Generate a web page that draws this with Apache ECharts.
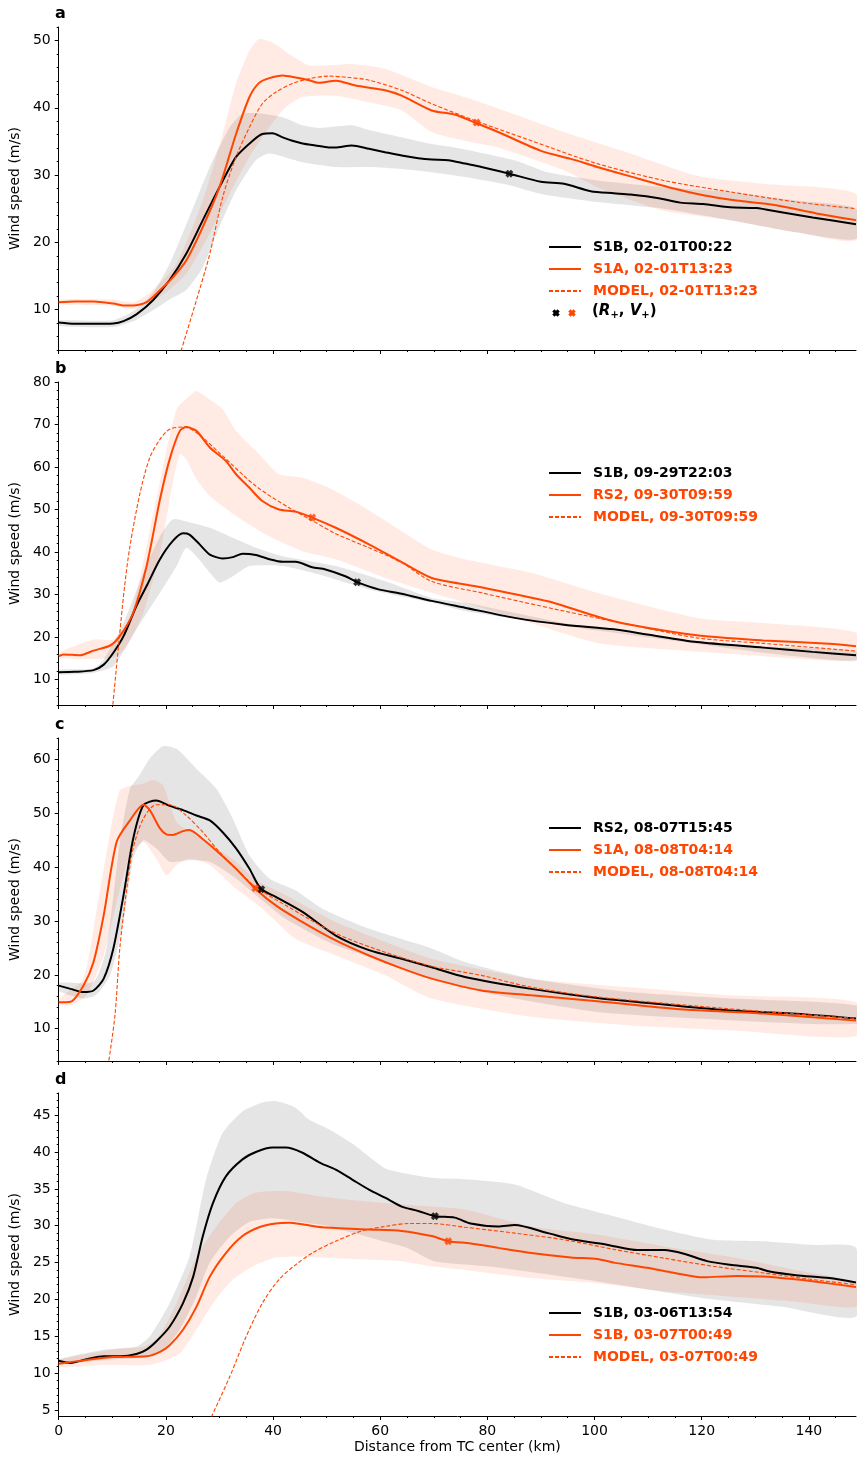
<!DOCTYPE html>
<html>
<head>
<meta charset="utf-8">
<title>Wind speed profiles</title>
<script src="https://cdn.jsdelivr.net/npm/echarts@6/dist/echarts.min.js"></script>
<style>
  html, body { margin: 0; padding: 0; background: #fff; }
  #chart { width: 857px; height: 1458px; }
</style>
</head>
<body>
<div id="chart"></div>
<script>
const ORANGE = '#ff4500'
const FONT = 'DejaVu Sans'
const X_MAX = 148.8

// panel a  [distance km, wind m/s]
const aBlack = [[0,8.1],[3,7.9],[6,7.9],[10.2,7.95],[12.1,8.3],[14.5,9.3],[17.6,11.4],[20.7,14.4],[23.8,18.3],[26.9,23.3],[30,28.2],[33.1,32.7],[36.2,35.1],[38,36.1],[39.9,36.2],[41.8,35.6],[43.6,35.1],[45.5,34.7],[47.9,34.4],[50.4,34.1],[51.6,34.1],[54.7,34.4],[57.9,33.9],[60.9,33.4],[64,32.9],[67.1,32.5],[69.6,32.3],[72.7,32.2],[75.8,31.7],[78.9,31.2],[84.1,30.2],[90,29.0],[94.3,28.7],[99.3,27.6],[103.6,27.3],[106.7,27.1],[111.7,26.6],[116,25.9],[120.3,25.7],[125.3,25.2],[130.2,25.1],[134.6,24.5],[140.7,23.7],[148.8,22.7]]
const aOrange = [[0,11.1],[3,11.2],[6.5,11.2],[10.2,10.9],[12.5,10.6],[13.9,10.6],[16.4,11.1],[18.9,12.9],[21.3,14.8],[23.8,17.3],[26.9,22.3],[30,28.2],[33.1,36.1],[35.6,41.6],[37.4,43.7],[39.3,44.4],[41.8,44.8],[44.2,44.5],[46.7,44.1],[48.6,43.7],[51.7,44.0],[52.7,43.9],[55.4,43.3],[60.9,42.6],[64,41.8],[69.6,39.6],[73.9,39.0],[78,37.7],[82,36.4],[90,33.6],[95.6,32.4],[100.5,31.2],[106.7,29.8],[114.8,28.0],[120.3,27.0],[126.5,26.2],[133.9,25.5],[141.4,24.3],[148.8,23.3]]
const aModel = [[22.5,3.0],[25.7,11.4],[28.2,18.3],[30.6,26.7],[33.1,32.7],[35.6,37.1],[38,40.6],[40.5,42.3],[43.6,43.6],[46.7,44.3],[50.4,44.7],[54.1,44.5],[57.9,44.1],[64,42.6],[69.6,40.6],[78,38.0],[88.2,35.1],[100.5,31.7],[112.9,29.2],[125.3,27.5],[137.6,26.0],[148.8,25.0]]
const aGrayHi = [[0,8.4],[10,8.4],[14,9.8],[17.6,12.5],[20.7,16.8],[24.4,23.8],[28.2,31.2],[31.9,37.1],[34.3,39.1],[38,39.1],[41.8,38.6],[45.5,37.4],[48.6,37.0],[54.7,37.4],[57.9,36.7],[64,35.6],[69.6,34.6],[73.9,34.1],[85.1,32.2],[91.3,30.4],[100.5,29.2],[112.9,28.2],[125.3,27.5],[137.6,26.2],[148.8,25.0]]
const aGrayLo = [[0,7.6],[10.2,7.4],[14,8.3],[17.6,9.9],[20.7,11.5],[23.8,12.9],[26.9,16.3],[30,22.3],[33.1,27.7],[36.8,32.2],[39.3,33.2],[45.5,31.9],[51.7,31.2],[57.9,31.2],[64,30.9],[69.6,30.4],[75.8,29.7],[84.1,28.5],[90,27.2],[100.5,26.0],[112.9,25.0],[125.3,23.3],[137.6,21.5],[148.8,20.5]]
const aOrangeHi = [[0,11.5],[10,11.5],[14,11.1],[17.6,12.9],[22,16.8],[26.9,26.2],[30.6,36.1],[33.1,43.6],[35.6,48.5],[37.4,50.2],[39.9,49.7],[43,48.0],[46.7,46.3],[50.4,46.3],[54.7,46.5],[60.9,45.8],[69.6,43.1],[75.8,41.6],[82,39.9],[94.3,36.4],[106.7,33.2],[119.1,29.9],[131.5,28.7],[148.8,27.2]]
const aOrangeLo = [[0,10.8],[10,10.6],[13.9,10.1],[18.9,11.9],[23.8,15.3],[28.2,21.3],[31.9,27.2],[35.6,32.7],[39.3,37.1],[42.4,40.1],[45.5,41.6],[51.7,41.8],[57.9,40.8],[64,39.6],[69.6,36.4],[75.8,35.1],[82,34.1],[94.3,30.7],[100.5,28.2],[112.9,24.7],[125.3,23.3],[137.6,21.5],[148.8,20.3]]
const aMarks = [[84.1,30.2],[78.0,37.8]]
const aNames = ['S1B, 02-01T00:22','S1A, 02-01T13:23','MODEL, 02-01T13:23']

// panel b
const bBlack = [[0,11.7],[3,11.8],[6.5,12.2],[8.4,13.5],[10.2,16.3],[12.1,20.2],[14.5,27.3],[16.4,32.0],[18.9,38.3],[21.3,42.6],[23.2,44.4],[24.4,44.1],[26.3,41.8],[28.2,39.4],[30.6,38.5],[32.5,38.8],[34.3,39.6],[36.8,39.3],[39.3,38.3],[41.8,37.7],[44.2,37.7],[47.3,36.4],[49.8,35.9],[53.5,34.3],[55.7,32.9],[59.7,31.2],[64,30.2],[69.6,28.5],[75.8,26.9],[85.1,24.5],[94.3,22.9],[103.6,21.8],[109.8,20.6],[119.1,18.8],[131.5,17.5],[140.7,16.5],[148.8,15.7]]
const bOrange = [[0,15.5],[0.9,15.9],[4,15.7],[6.5,16.8],[9.6,18.0],[11.4,20.2],[13.9,25.7],[16.4,36.7],[18.9,52.4],[20.7,61.8],[22.6,68.5],[23.8,69.4],[25.7,68.5],[28.2,64.6],[31.2,61.4],[33.1,58.3],[35.6,55.1],[38,52.0],[41.1,50.0],[44.2,49.5],[47.3,48.1],[51.7,45.7],[57.9,41.8],[64,37.6],[69.6,33.9],[77.6,32.0],[91.3,28.4],[103.6,23.7],[119.1,20.4],[131.5,19.2],[143.8,18.4],[148.8,17.8]]
const bModel = [[10.0,2.7],[11.4,21.0],[12.3,32.0],[13.3,41.4],[15.2,54.0],[17,62.2],[18.9,66.5],[20.7,68.9],[23.2,69.4],[25.7,68.1],[30.6,62.6],[36.8,55.5],[43,50.4],[47.3,47.4],[51.7,44.3],[57.9,41.0],[64,37.5],[69.6,33.1],[78.9,30.4],[94.3,26.1],[106.7,22.9],[119.1,19.8],[131.5,18.5],[148.8,16.7]]
const bGrayHi = [[0,12.3],[6.5,12.6],[8.4,14.7],[12.1,23.3],[15.8,35.1],[18.9,43.7],[21.3,47.7],[24.4,47.0],[28.2,45.7],[33.1,43.0],[36.8,41.0],[41.8,39.0],[51.7,36.7],[61,33.1],[69.6,29.2],[75.8,28.1],[94.3,23.3],[113,19.8],[131.5,17.8],[148.8,16.7]]
const bGrayLo = [[0,11.2],[6.5,11.6],[10.2,13.1],[14.5,21.8],[18.9,30.4],[22,36.7],[23.8,41.0],[25.7,39.0],[28.2,35.1],[30,32.8],[32.5,34.3],[35.6,36.7],[41.8,36.7],[48.6,34.7],[57.9,31.2],[69.6,28.1],[75.8,26.1],[94.3,22.6],[113,19.4],[131.5,16.3],[148.8,14.3]]
const bOrangeHi = [[0,16.3],[6.5,19.4],[10.2,19.4],[13.3,24.1],[16.4,41.4],[19.5,60.2],[22,73.6],[24.4,76.7],[25.7,77.9],[28.2,75.9],[30.6,73.6],[33.1,68.5],[36.8,63.8],[41.1,58.3],[45.5,57.5],[50.4,55.1],[56.6,50.8],[64,44.9],[69.6,40.6],[75.8,38.3],[88.2,35.1],[100.5,30.4],[119.1,24.5],[131.5,23.3],[148.8,21.0]]
const bOrangeLo = [[0,15.0],[10.2,15.1],[12.7,17.8],[15.8,25.7],[18.9,39.8],[21.3,56.3],[22.6,63.0],[23.8,61.8],[25.7,57.1],[28.2,53.2],[33.1,48.5],[39.3,43.7],[45.5,40.2],[51.7,38.3],[61,33.9],[69.6,30.4],[75.8,28.1],[88.2,23.3],[100.5,18.6],[113,17.1],[131.5,15.5],[148.8,14.7]]
const bMarks = [[55.7,32.9],[47.3,48.1]]
const bNames = ['S1B, 09-29T22:03','RS2, 09-30T09:59','MODEL, 09-30T09:59']

// panel c
const cBlack = [[0,18.0],[2.2,17.4],[4.6,16.8],[6.5,17.1],[8.4,19.3],[10.2,24.9],[12.1,34.8],[13.9,45.3],[15.8,51.5],[18.2,52.4],[20.7,51.4],[23.2,50.6],[25.7,49.6],[28.2,48.7],[30.6,46.5],[33.1,43.5],[35.6,39.7],[37.7,36.0],[40.5,34.5],[45.5,31.7],[51.7,27.3],[57.9,24.6],[64,23.0],[69.6,21.4],[75.8,19.6],[88.2,17.4],[100.5,15.7],[113,14.5],[125.3,13.4],[137.6,12.8],[148.8,11.9]]
const cOrange = [[0,14.9],[2.2,15.0],[4.6,18.0],[6.5,22.4],[8.4,31.1],[10.8,44.7],[13.3,48.7],[15.8,51.6],[17,50.6],[18.9,47.2],[20.1,46.1],[21.3,46.0],[23.2,46.7],[24.4,46.9],[26.9,45.2],[29.4,43.1],[33.1,39.7],[36.7,36.0],[40.5,32.9],[45.5,29.8],[51.7,26.4],[57.9,23.6],[64,21.2],[69.6,19.3],[78.9,17.1],[88.2,16.2],[100.5,15.1],[116,13.6],[131.5,12.8],[148.8,11.5]]
const cModel = [[9.2,3.0],[10.5,12.5],[11.4,24.9],[12.7,36.0],[13.9,43.5],[15.8,49.0],[18.2,51.6],[20.7,51.6],[23.8,49.6],[26.9,46.5],[30,42.8],[33.1,39.7],[36.8,36.3],[42.4,32.9],[51.7,27.7],[60.9,24.2],[69.6,21.6],[78.9,19.9],[88.2,17.7],[100.5,15.9],[119.1,14.2],[131.5,13.2],[148.8,11.9]]
const cGrayHi = [[0,18.5],[6.5,18.7],[8.9,24.9],[11.4,44.7],[13.3,54.6],[14.9,56.8],[17,60.2],[19.5,62.5],[22,62.0],[25.7,58.3],[29.4,54.6],[32.5,49.0],[35.6,42.2],[39.3,37.9],[44.2,35.7],[49.2,32.3],[57.9,28.6],[69.6,24.9],[75.8,22.4],[88.2,19.3],[106.7,16.8],[125.3,15.6],[148.8,14.3]]
const cGrayLo = [[0,17.0],[4.6,15.6],[6.9,16.2],[9.6,19.9],[12.1,29.8],[13.9,41.6],[15.8,45.0],[18.2,43.5],[20.7,41.0],[24.4,41.3],[28.2,41.0],[33.1,37.9],[36.8,34.8],[42.4,30.4],[51.7,25.5],[61,22.4],[69.6,19.3],[82,16.2],[100.5,13.1],[119.1,11.9],[148.8,10.9]]
const cOrangeHi = [[0,15.5],[4.6,19.3],[6.9,31.1],[9.6,46.5],[11.4,54.3],[13.3,55.1],[15.8,55.5],[17.6,56.2],[19.5,55.2],[22,48.4],[25.7,45.9],[29.4,43.5],[33.1,41.0],[36.8,37.6],[42.4,34.8],[51.7,29.8],[61,26.1],[69.6,23.0],[88.2,19.3],[106.7,17.7],[125.3,16.2],[148.8,14.9]]
const cOrangeLo = [[0,14.4],[2.2,14.3],[5.2,16.2],[8.4,23.6],[10.8,33.5],[13.3,42.2],[15.8,44.7],[18.2,41.6],[20.1,38.5],[22,40.4],[24.4,41.6],[28.2,40.4],[33.1,36.0],[38,32.3],[44.2,26.7],[51.7,23.6],[61,19.9],[69.6,15.6],[88.2,12.2],[106.7,10.6],[125.3,9.7],[148.8,8.6]]
const cMarks = [[37.8,35.9],[36.7,36.1]]
const cNames = ['RS2, 08-07T15:45','S1A, 08-08T04:14','MODEL, 08-08T04:14']

// panel d
const dBlack = [[0,11.7],[2.2,11.4],[5.2,11.9],[8.4,12.3],[11.5,12.3],[14.5,12.6],[16.4,13.2],[18.2,14.3],[20.7,16.3],[23.2,19.5],[25.1,23.1],[26.9,28.6],[28.8,33.1],[31.2,36.7],[34.3,39.0],[36.8,40.0],[39.9,40.6],[42.4,40.6],[45.5,39.9],[48.6,38.6],[51.7,37.6],[54.7,36.3],[57.9,34.9],[60.9,33.8],[64,32.6],[67.1,32.0],[70.2,31.3],[73.9,31.1],[76.9,30.3],[82,29.9],[85.1,30.1],[91.3,29.0],[96.3,28.1],[102.5,27.4],[108,26.7],[113,26.7],[116.7,26.2],[121,25.2],[125.3,24.7],[130.2,24.3],[132.7,23.8],[137.6,23.3],[143.8,22.9],[148.8,22.3]]
const dOrange = [[0,11.3],[5.2,11.8],[10.2,12.2],[16.4,12.3],[18.9,12.9],[20.7,13.8],[23.2,15.9],[25.7,19.0],[28.2,23.1],[31.2,26.3],[34.3,28.6],[37.4,29.8],[40.5,30.3],[43,30.4],[45.5,30.2],[49.2,29.8],[57.9,29.5],[64,29.3],[69.6,28.6],[72.7,27.9],[76.9,27.6],[82,27.0],[88.2,26.3],[95.6,25.7],[100.5,25.5],[103.6,25.0],[109.8,24.3],[114.2,23.7],[120.3,23.0],[126.5,23.2],[131.5,23.1],[136.4,22.8],[141.4,22.4],[148.8,21.7]]
const dModel = [[28.0,3.3],[31.9,9.5],[35,15.0],[38,19.5],[41.1,22.7],[44.2,24.7],[47.3,26.3],[51.7,27.9],[56.6,29.3],[60.9,29.9],[65.3,30.3],[69.6,30.3],[75.8,29.8],[85.1,29.0],[94.3,28.1],[103.6,26.8],[113,25.6],[122.2,24.5],[131.5,23.6],[140.7,22.7],[148.8,22.0]]
const dGrayHi = [[0,11.9],[8.4,13.2],[14.5,13.6],[17,15.0],[20.7,19.5],[24.4,25.8],[27.5,36.3],[30.6,42.6],[34.3,45.5],[38,46.7],[40.5,46.9],[44.2,46.0],[46.7,44.4],[50.4,43.1],[54.7,41.2],[60.9,37.8],[64,37.2],[69.6,36.5],[75.8,36.3],[85.1,35.6],[94.3,33.1],[103.6,31.3],[113,29.5],[122.2,28.1],[131.5,27.9],[140.7,27.4],[148.8,27.0]]
const dGrayLo = [[0,11.2],[8.4,11.8],[16.4,12.2],[19.5,13.2],[22.6,15.9],[25.7,20.4],[28.2,25.0],[31.9,28.5],[35.6,30.5],[40,31.0],[45,30.5],[50,30.0],[55,29.0],[60,28.0],[65,27.0],[70,25.2],[80,24.5],[100,22.5],[120,20.2],[135,19.0],[148.8,17.7]]
const dOrangeHi = [[0,11.8],[11.5,13.4],[15.8,13.6],[18.5,14.8],[22,19.5],[25.7,25.8],[29.4,29.9],[33.1,33.1],[36.8,34.5],[42.4,34.7],[48.6,34.0],[54.7,33.5],[60.9,33.1],[69.6,32.6],[75.8,32.2],[88.2,29.9],[100.5,28.8],[113,27.2],[125.3,25.8],[137.6,24.0],[148.8,22.2]]
const dOrangeLo = [[0,10.8],[8.4,11.1],[16.4,11.1],[19.5,11.6],[22.6,12.7],[25.7,15.9],[28.8,19.5],[32.5,22.7],[36.8,24.7],[40.5,25.7],[45.5,25.8],[51.7,25.6],[57.9,25.4],[64,25.2],[69.6,24.5],[75.8,24.0],[88.2,22.9],[100.5,22.2],[113,21.1],[125.3,20.4],[137.6,19.7],[148.8,19.0]]
const dMarks = [[70.2,31.3],[72.7,27.9]]
const dNames = ['S1B, 03-06T13:54','S1B, 03-07T00:49','MODEL, 03-07T00:49']

const xTicks = [0, 20, 40, 60, 80, 100, 120, 140]

// layout of the four stacked panels
const panels = [
    { letter: 'a', top: 27, yMin: 4, yMax: 52, yTicks: [10,20,30,40,50], minorStep: 2, legendTop: 240,
      black: aBlack, orange: aOrange, model: aModel, grayHi: aGrayHi, grayLo: aGrayLo, orHi: aOrangeHi, orLo: aOrangeLo, marks: aMarks, names: aNames },
    { letter: 'b', top: 382, yMin: 4, yMax: 80, yTicks: [10,20,30,40,50,60,70,80], minorStep: 2, legendTop: 466,
      black: bBlack, orange: bOrange, model: bModel, grayHi: bGrayHi, grayLo: bGrayLo, orHi: bOrangeHi, orLo: bOrangeLo, marks: bMarks, names: bNames },
    { letter: 'c', top: 738, yMin: 4, yMax: 64, yTicks: [10,20,30,40,50,60], minorStep: 2, legendTop: 821,
      black: cBlack, orange: cOrange, model: cModel, grayHi: cGrayHi, grayLo: cGrayLo, orHi: cOrangeHi, orLo: cOrangeLo, marks: cMarks, names: cNames },
    { letter: 'd', top: 1093, yMin: 4.2, yMax: 48, yTicks: [5,10,15,20,25,30,35,40,45], minorStep: 1, legendTop: 1306,
      black: dBlack, orange: dOrange, model: dModel, grayHi: dGrayHi, grayLo: dGrayLo, orHi: dOrangeHi, orLo: dOrangeLo, marks: dMarks, names: dNames }
]
const PANEL_H = 323

const xMinor = []
for (let v = 5; v < X_MAX; v += 5) if (v % 20 !== 0) xMinor.push(v)

// thick "X" marker (like matplotlib's 'X')
const crossShape = [[0,3],[3,0],[5,2],[7,0],[10,3],[8,5],[10,7],[7,10],[5,8],[3,10],[0,7],[2,5]]
const crossPath = 'path://M' + crossShape.map(q => q.join(',')).join('L') + 'Z'

// filled band between two profiles, drawn as one polygon
function bandSeries(hi, lo, color, gi) {
    return {
        type: 'custom',
        xAxisIndex: gi * 2,
        yAxisIndex: gi * 2,
        clip: true,
        silent: true,
        data: [[0, 0]],
        renderItem: (params, api) => {
            const pts = hi.concat(lo.slice().reverse()).map(p => api.coord(p))
            return { type: 'polygon', shape: { points: pts, smooth: 0.2 }, style: { fill: color } }
        }
    }
}

const grid = [], xAxis = [], yAxis = [], series = [], legend = [], graphic = []

panels.forEach((p, gi) => {
    const last = gi === panels.length - 1
    grid.push({ left: 55, width: 801, top: p.top, height: PANEL_H })

    const axisLine = { show: true, lineStyle: { color: '#000', width: 1 } }
    xAxis.push({
        type: 'value', gridIndex: gi, position: 'bottom', min: 0, max: X_MAX,
        axisLine,
        axisTick: { show: true, length: 4, customValues: xTicks, lineStyle: { color: '#000' } },
        axisLabel: { show: last, customValues: xTicks, margin: 8, color: '#000', fontFamily: FONT, fontSize: 14 },
        splitLine: { show: false },
        name: last ? 'Distance from TC center (km)' : '',
        nameLocation: 'middle', nameGap: 24,
        nameTextStyle: { color: '#000', fontFamily: FONT, fontSize: 14 }
    })
    xAxis.push({
        type: 'value', gridIndex: gi, position: 'bottom', min: 0, max: X_MAX,
        axisLine: { show: false },
        axisTick: { show: true, length: 2, customValues: xMinor, lineStyle: { color: '#000' } },
        axisLabel: { show: false },
        splitLine: { show: false }
    })

    const yMinor = []
    for (let v = p.minorStep * Math.ceil(p.yMin / p.minorStep); v <= p.yMax; v += p.minorStep) {
        if (!p.yTicks.includes(v)) yMinor.push(v)
    }
    yAxis.push({
        type: 'value', gridIndex: gi, position: 'left', min: p.yMin, max: p.yMax,
        axisLine,
        axisTick: { show: true, length: 4, customValues: p.yTicks, lineStyle: { color: '#000' } },
        axisLabel: { customValues: p.yTicks, margin: 8, color: '#000', fontFamily: FONT, fontSize: 14 },
        splitLine: { show: false },
        name: 'Wind speed (m/s)', nameLocation: 'middle', nameGap: 31,
        nameTextStyle: { color: '#000', fontFamily: FONT, fontSize: 14 }
    })
    yAxis.push({
        type: 'value', gridIndex: gi, position: 'left', min: p.yMin, max: p.yMax,
        axisLine: { show: false },
        axisTick: { show: true, length: 2, customValues: yMinor, lineStyle: { color: '#000' } },
        axisLabel: { show: false },
        splitLine: { show: false }
    })

    const ax = { xAxisIndex: gi * 2, yAxisIndex: gi * 2 }
    series.push(bandSeries(p.grayHi, p.grayLo, 'rgba(0,0,0,0.1)', gi))
    series.push(bandSeries(p.orHi, p.orLo, 'rgba(255,69,0,0.11)', gi))
    series.push({ ...ax, type: 'line', name: p.names[0], data: p.black, symbol: 'none', smooth: 0.25,
        color: '#000', lineStyle: { color: '#000', width: 2 } })
    series.push({ ...ax, type: 'line', name: p.names[1], data: p.orange, symbol: 'none', smooth: 0.25,
        color: ORANGE, lineStyle: { color: ORANGE, width: 2 } })
    series.push({ ...ax, type: 'line', name: p.names[2], data: p.model, symbol: 'none', smooth: 0.3,
        color: ORANGE, lineStyle: { color: ORANGE, width: 1.1, type: [4, 2] } })
    series.push({ ...ax, type: 'scatter', symbol: crossPath, symbolSize: 8, z: 5,
        data: [
            { value: p.marks[0], itemStyle: { color: '#000' } },
            { value: p.marks[1], itemStyle: { color: ORANGE } }
        ] })

    legend.push({
        orient: 'vertical', left: 548, top: p.legendTop, padding: 0,
        itemWidth: 32, itemHeight: 14, itemGap: 8,
        selectedMode: false,
        itemStyle: { opacity: 0 },
        textStyle: { fontFamily: FONT, fontSize: 14, fontWeight: 'bold', lineHeight: 14, padding: [0, 0, 0, 7] },
        data: [
            { name: p.names[0], textStyle: { color: '#000' } },
            { name: p.names[1], textStyle: { color: ORANGE } },
            { name: p.names[2], textStyle: { color: ORANGE } }
        ]
    })

    graphic.push({
        type: 'text', left: 55, top: p.top - 21,
        style: { text: p.letter, fill: '#000', font: 'bold 16px "DejaVu Sans"' }
    })
})

// extra legend row of panel a: (R+, V+) markers
function crossPoints(cx, cy) {
    return crossShape.map(q => [cx + (q[0] - 5) * 0.75, cy + (q[1] - 5) * 0.75])
}
graphic.push({ type: 'polygon', shape: { points: crossPoints(556, 313) }, style: { fill: '#000' } })
graphic.push({ type: 'polygon', shape: { points: crossPoints(572, 313) }, style: { fill: ORANGE } })
graphic.push({
    type: 'text', left: 592, top: 304,
    style: {
        text: '{b|(}{i|R}{s|+}{b|, }{i|V}{s|+}{b|)}',
        fill: '#000',
        rich: {
            b: { fontFamily: FONT, fontSize: 15, fontWeight: 'bold', lineHeight: 18, verticalAlign: 'middle' },
            i: { fontFamily: FONT, fontSize: 15, fontWeight: 'bold', fontStyle: 'italic', lineHeight: 18, verticalAlign: 'middle' },
            s: { fontFamily: FONT, fontSize: 10, fontWeight: 'bold', lineHeight: 18, verticalAlign: 'bottom' }
        }
    }
})

const chart = echarts.init(document.getElementById('chart'))
chart.setOption({
    animation: false,
    backgroundColor: '#fff',
    grid, xAxis, yAxis, series, legend, graphic
})
</script>
</body>
</html>
